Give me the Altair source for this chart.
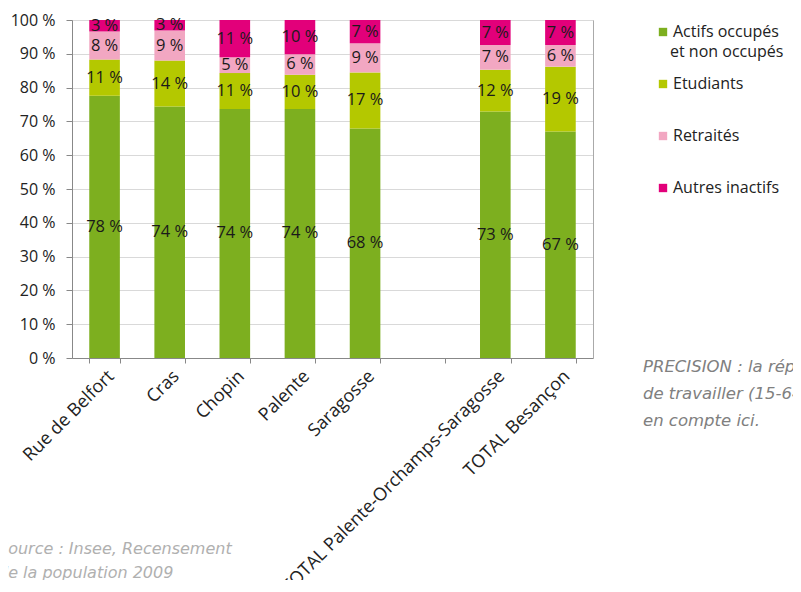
import altair as alt
import pandas as pd

categories = ["Rue de Belfort", "Cras", "Chopin", "Palente", "Saragosse",
              " ", "TOTAL Palente-Orchamps-Saragosse", "TOTAL Besançon"]
bar_categories = ["Rue de Belfort", "Cras", "Chopin", "Palente", "Saragosse",
                  "TOTAL Palente-Orchamps-Saragosse", "TOTAL Besançon"]
series = ["Actifs occupés et non occupés", "Etudiants", "Retraités", "Autres inactifs"]
actifs = [77.6, 74.4, 73.7, 73.7, 67.9, 72.9, 67.0]
etudiants = [10.7, 13.6, 10.6, 10.1, 16.6, 12.4, 19.2]
retraites = [8.3, 8.9, 4.7, 6.1, 8.6, 7.3, 6.4]
autres = [3.4, 3.1, 11.0, 10.1, 6.9, 7.4, 7.4]
colors = ["#7daf1f", "#b4c800", "#f2a7c2", "#e2007a"]
y_ticks = [0, 10, 20, 30, 40, 50, 60, 70, 80, 90, 100]

legend_first_line = "Actifs occupés"
legend_second_line = "et non occupés"
source_note = "Source : Insee, Recensement\nde la population 2009"
precision_note = ("PRECISION : la répartition de la population en âge\n"
                  "de travailler (15-64 ans) est prise\nen compte ici.")

rows = []
for s_i, (name, vals) in enumerate(zip(series, [actifs, etudiants, retraites, autres])):
    for c, v in zip(bar_categories, vals):
        rows.append({"cat": c, "serie": name, "value": v, "order": s_i})
df = pd.DataFrame(rows)

FONT = "Open Sans"

x_enc = alt.X("cat:N", sort=categories,
              scale=alt.Scale(domain=categories, paddingInner=0.53, paddingOuter=0.265),
              axis=alt.Axis(title=None, labelAngle=-45, labelFontSize=18, labelColor="#222222",
                            labelFont=FONT, tickBand="extent", tickSize=5, tickColor="#888888",
                            domainColor="#888888", labelPadding=4, labelLimit=500))

base = alt.Chart(df).transform_stack(
    stack="value", groupby=["cat"], as_=["v0", "v1"],
    sort=[alt.SortField("order", order="ascending")]
).transform_calculate(mid="(datum.v0 + datum.v1) / 2",
                      lab="format(datum.value, '.0f') + ' %'")

yscale = alt.Scale(domain=[0, 100], nice=False)

bars = base.mark_bar().encode(
    x=x_enc,
    y=alt.Y("v0:Q", scale=yscale,
            axis=alt.Axis(title=None, values=y_ticks, labelExpr="datum.value + ' %'",
                          labelFontSize=16, labelColor="#222222", labelFont=FONT,
                          gridColor="#d9d9d9", tickSize=6, tickColor="#888888",
                          domainColor="#888888", labelPadding=11)),
    y2="v1:Q",
    color=alt.Color("serie:N", sort=series,
                    scale=alt.Scale(domain=series, range=colors),
                    legend=alt.Legend(title=None, orient="none", legendX=583, legendY=4,
                                      symbolType="square", symbolSize=70, symbolStrokeWidth=0,
                                      labelFontSize=16, labelFont=FONT, labelColor="#222222",
                                      rowPadding=36, labelOffset=2, labelLimit=300,
                                      labelExpr="datum.label == 'Actifs occupés et non occupés' ? '" + legend_first_line + "' : datum.label")),
    order=alt.Order("order:Q"),
)

labels = base.mark_text(fontSize=16.5, font=FONT, color="#1a1a1a").encode(
    x=alt.X("cat:N", sort=categories),
    y=alt.Y("mid:Q", scale=yscale,
            axis=alt.Axis(orient="right", labels=False, ticks=False, grid=False, title=None,
                          domainColor="#aaaaaa")),
    text="lab:N",
)

leg2 = alt.Chart(pd.DataFrame({"t": [legend_second_line]})).mark_text(
    align="left", baseline="middle", fontSize=16, font=FONT, color="#222222"
).encode(x=alt.value(598), y=alt.value(32), text="t:N")

src = alt.Chart(pd.DataFrame({"t": [source_note]})).mark_text(
    align="left", baseline="middle", fontStyle="italic", fontSize=16, font="DejaVu Sans",
    color="#b0b0b0", lineBreak="\n", lineHeight=24
).encode(x=alt.value(-74), y=alt.value(529), text="t:N")

prec = alt.Chart(pd.DataFrame({"t": [precision_note]})).mark_text(
    align="left", baseline="middle", fontStyle="italic", fontSize=16.5, font="DejaVu Sans",
    color="#808080", lineBreak="\n", lineHeight=27
).encode(x=alt.value(571), y=alt.value(347), text="t:N")

chart = alt.layer(bars, labels, leg2, src, prec).resolve_axis(y="independent").properties(
    width=521, height=338,
    autosize=alt.AutoSizeParams(type="none"),
    padding={"left": 64, "top": 12, "right": 200, "bottom": 222},
).configure_view(stroke=None).configure(font=FONT)

chart.save("out.html", embed_options={"renderer": "svg", "actions": False})
